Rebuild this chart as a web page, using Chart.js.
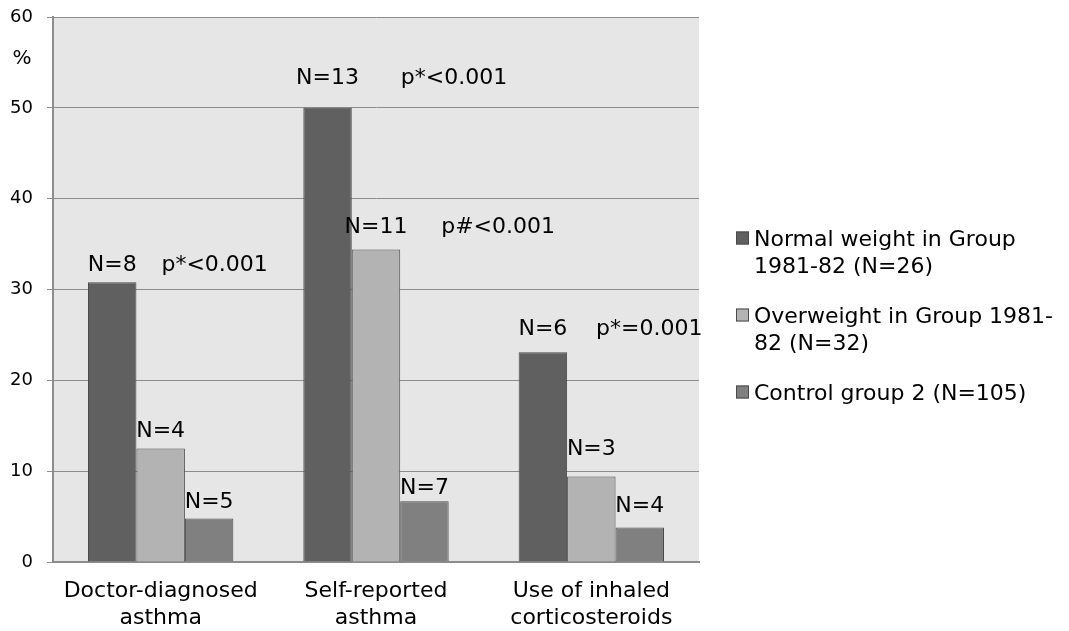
<!DOCTYPE html>
<html>
<head>
<meta charset="utf-8">
<title>Asthma by weight group</title>
<script src="https://cdn.jsdelivr.net/npm/chart.js@4.4.1/dist/chart.umd.min.js"></script>
<style>
  html, body { margin: 0; padding: 0; background: #ffffff; }
  #wrap { position: relative; width: 1069px; height: 631px; }
</style>
</head>
<body>
<div id="wrap"><canvas id="chart" width="1069" height="631"></canvas></div>
<script>
// ---- data ----
const categories = [
  ['Doctor-diagnosed', 'asthma'],
  ['Self-reported', 'asthma'],
  ['Use of inhaled', 'corticosteroids']
];
const seriesNames = [
  ['Normal weight in Group', '1981-82 (N=26)'],
  ['Overweight in Group 1981-', '82 (N=32)'],
  ['Control group 2 (N=105)']
];
const normalWeight = [30.8, 50.0, 23.1];
const overweight   = [12.5, 34.4, 9.4];
const controlGroup = [4.8, 6.7, 3.8];

const normalCounts  = ['N=8', 'N=13', 'N=6'];
const overCounts    = ['N=4', 'N=11', 'N=3'];
const controlCounts = ['N=5', 'N=7', 'N=4'];

// significance notes: text, the series and category of the bar they sit beside
const pTexts    = ['p*<0.001', 'p*<0.001', 'p#<0.001', 'p*=0.001'];
const pSeries   = [0, 0, 1, 0];
const pCategory = [0, 1, 1, 2];

const yTicks = [0, 10, 20, 30, 40, 50, 60];
const yUnit = '%';

// ---- styling ----
const FONT = '"DejaVu Sans", Verdana, sans-serif';
const fills   = ['#606060', '#b3b3b3', '#808080'];
const edge    = '#4a4a4a';
const gridCol = '#8c8c8c';
const plotBg  = '#e6e6e6';

// label placement (pixels): rise of each count label above its bar, gap of each note past its bar
const countRise = [[19, 32, 25], [19, 25, 30], [18, 15, 23]];
const noteGap = [25, 49, 41, 29];

const counts = [normalCounts, overCounts, controlCounts];

const plotBackground = {
  id: 'plotBackground',
  beforeDraw(chart) {
    const { ctx, chartArea: a } = chart;
    ctx.save();
    ctx.fillStyle = plotBg;
    ctx.fillRect(a.left, a.top, a.right - a.left, a.bottom - a.top);
    ctx.restore();
  }
};

const annotations = {
  id: 'annotations',
  afterDatasetsDraw(chart) {
    const { ctx } = chart;
    const size = 22;
    ctx.save();
    ctx.font = size + 'px ' + FONT;
    ctx.fillStyle = '#000000';
    ctx.textBaseline = 'alphabetic';
    const capHalf = 0.364 * size;

    // count labels centred above every bar
    counts.forEach((labels, s) => {
      const meta = chart.getDatasetMeta(s);
      labels.forEach((txt, c) => {
        const bar = meta.data[c];
        const cy = bar.y - countRise[s][c];
        ctx.textAlign = 'center';
        ctx.fillText(txt, bar.x, cy + capHalf);
      });
    });

    // p-value notes on the same line as the bar's count label
    pTexts.forEach((txt, i) => {
      const s = pSeries[i], c = pCategory[i];
      const bar = chart.getDatasetMeta(s).data[c];
      const right = bar.x + bar.width / 2;
      const cy = bar.y - countRise[s][c];
      ctx.textAlign = 'left';
      ctx.fillText(txt, right + noteGap[i], cy + capHalf);
    });

    // unit label beside the value axis, just under the top tick
    const y = chart.scales.y;
    ctx.font = '20px ' + FONT;
    ctx.textAlign = 'center';
    ctx.fillText(yUnit, 22, y.getPixelForValue(60) + 40 + 0.364 * 20);
    ctx.restore();
  }
};

const sideLegend = {
  id: 'sideLegend',
  afterDraw(chart) {
    const { ctx } = chart;
    const size = 22, lineH = 27, box = 13;
    const boxX = 736, textX = 754;
    let cy = 238;
    ctx.save();
    ctx.font = size + 'px ' + FONT;
    ctx.textAlign = 'left';
    ctx.textBaseline = 'alphabetic';
    seriesNames.forEach((lines, i) => {
      ctx.fillStyle = fills[i];
      ctx.fillRect(boxX, cy - box / 2, box, box);
      ctx.strokeStyle = edge;
      ctx.lineWidth = 1;
      ctx.strokeRect(boxX + 0.5, cy - box / 2 + 0.5, box - 1, box - 1);
      ctx.fillStyle = '#000000';
      lines.forEach((ln, k) => {
        ctx.fillText(ln, textX, cy + k * lineH + 0.364 * size);
      });
      cy += lines.length * lineH + 23;
    });
    ctx.restore();
  }
};

const seriesData = [normalWeight, overweight, controlGroup];

new Chart(document.getElementById('chart'), {
  type: 'bar',
  data: {
    labels: categories,
    datasets: seriesData.map((vals, i) => ({
      label: seriesNames[i].join(' '),
      data: vals,
      backgroundColor: fills[i],
      borderColor: edge,
      borderWidth: 1,
      categoryPercentage: 0.675,
      barPercentage: 1.0
    }))
  },
  options: {
    responsive: false,
    animation: false,
    events: [],
    layout: { padding: { top: 17, right: 370, left: 0, bottom: 0 } },
    plugins: {
      legend: { display: false },
      tooltip: { enabled: false },
      title: { display: false }
    },
    scales: {
      x: {
        grid: { display: false, drawTicks: false },
        border: { display: true, color: gridCol, width: 2 },
        ticks: {
          color: '#000000',
          font: { family: FONT, size: 22, lineHeight: 27 / 22 },
          padding: 16,
          maxRotation: 0,
          autoSkip: false
        },
        afterFit(scale) {
          scale.height = 69;
          scale.paddingLeft = 0;
          scale.paddingRight = 0;
        }
      },
      y: {
        min: 0,
        max: 60,
        afterBuildTicks(scale) { scale.ticks = yTicks.map(v => ({ value: v })); },
        grid: { color: gridCol, lineWidth: 1, drawTicks: true, tickLength: 6, tickColor: gridCol },
        border: { display: true, color: gridCol, width: 2 },
        ticks: {
          color: '#000000',
          font: { family: FONT, size: 18 },
          padding: 14
        },
        afterFit(scale) {
          scale.width = 53;
          scale.paddingTop = 0;
          scale.paddingBottom = 0;
        }
      }
    }
  },
  plugins: [plotBackground, annotations, sideLegend]
});
</script>
</body>
</html>
